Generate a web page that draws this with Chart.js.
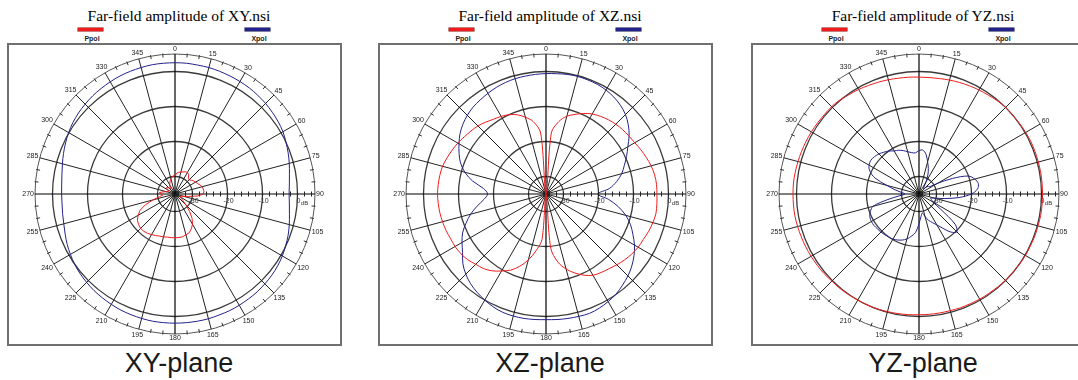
<!DOCTYPE html>
<html><head><meta charset="utf-8">
<script src="https://cdn.jsdelivr.net/npm/chart.js@4.4.1/dist/chart.umd.min.js"></script>
<style>
html,body{margin:0;padding:0;background:#fff;}
body{width:1078px;height:380px;overflow:hidden;position:relative;}
.panel{position:absolute;top:0;width:335px;height:380px;}
.title{position:absolute;left:-3px;width:350px;top:7px;line-height:17px;text-align:center;font-family:"Liberation Serif",serif;font-size:15.5px;color:#000;white-space:nowrap;}
.frame{position:absolute;left:0;top:43px;width:335px;height:303px;border:2px solid #707070;box-sizing:border-box;}
canvas{position:absolute;left:0;top:43px;}
.lg-bar{position:absolute;top:28px;width:25px;height:3px;}
.lg-text{position:absolute;top:35px;width:40px;line-height:8px;text-align:center;font-family:"Liberation Sans",sans-serif;font-size:7px;font-weight:bold;color:#222;}
.caption{position:absolute;left:-3px;width:350px;top:348px;line-height:31px;text-align:center;font-family:"Liberation Sans",sans-serif;font-size:27px;color:#1a1a1a;white-space:nowrap;}
</style></head>
<body>
<script>
// ---------- data ----------
const ANGLES = [0,5,10,15,20,25,30,35,40,45,50,55,60,65,70,75,80,85,90,95,100,105,110,115,120,125,130,135,140,145,150,155,160,165,170,175,
180,185,190,195,200,205,210,215,220,225,230,235,240,245,250,255,260,265,270,275,280,285,290,295,300,305,310,315,320,325,330,335,340,345,350,355];

const SERIES_NAMES = ['Ppol', 'Xpol'];
const PANEL_TITLES = ['Far-field amplitude of XY.nsi', 'Far-field amplitude of XZ.nsi', 'Far-field amplitude of YZ.nsi'];
const PANEL_CAPTIONS = ['XY-plane', 'XZ-plane', 'YZ-plane'];

const XY_PPOL = [-29.8,-29.0,-28.7,-28.5,-28.3,-28.0,-27.9,-28.2,-29.0,-29.3,-28.9,-28.5,-28.2,-27.9,-27.4,-27.0,-26.8,-26.7,
-26.9,-28.5,-31.0,-32.5,-33.0,-33.5,-33.2,-32.8,-32.0,-30.5,-28.5,-26.5,-25.0,-24.0,-23.2,-22.9,-22.6,-22.5,
-22.5,-22.5,-22.5,-22.3,-22.2,-21.9,-21.6,-21.3,-21.1,-21.1,-21.4,-21.9,-22.8,-24.0,-26.0,-28.5,-30.5,-31.5,
-31.0,-30.5,-31.5,-32.5,-33.0,-33.0,-32.5,-32.0,-32.0,-32.5,-33.0,-32.5,-32.0,-31.5,-31.0,-30.5,-30.0,-29.8];
const XY_XPOL = [2.5,2.5,2.4,2.4,2.3,2.2,2.1,2.0,1.8,1.6,1.3,1.0,0.6,0.0,-0.6,-1.2,-1.8,-2.2,
-2.4,-2.2,-1.8,-1.2,-0.6,-0.1,0.4,0.8,1.1,1.3,1.5,1.6,1.7,1.8,1.8,1.9,1.9,1.9,
1.9,1.9,1.9,1.8,1.7,1.6,1.4,1.2,1.0,0.7,0.4,0.0,-0.5,-1.0,-1.6,-2.1,-2.4,-2.6,
-2.6,-2.5,-2.2,-1.7,-1.1,-0.5,0.1,0.6,1.0,1.3,1.6,1.8,2.0,2.2,2.3,2.4,2.5,2.5];

const XZ_PPOL = [-35,-17.5,-14.0,-12.0,-10.8,-9.6,-8.6,-7.9,-7.3,-6.8,-6.4,-6.1,-5.7,-5.1,-4.5,-3.9,-3.5,-3.3,
-3.3,-3.2,-3.1,-3.4,-3.8,-4.3,-4.6,-5.1,-5.7,-6.4,-7.1,-7.6,-8.2,-9.4,-11.0,-12.8,-15.2,-19.5,
-35,-22.0,-18.5,-15.5,-13.0,-11.0,-9.6,-8.2,-7.2,-6.6,-5.8,-5.3,-5.0,-4.9,-4.6,-4.4,-4.2,-4.1,
-4.0,-4.1,-4.2,-4.4,-4.9,-5.4,-5.9,-6.5,-7.0,-7.5,-8.2,-8.9,-9.4,-10.0,-10.9,-12.3,-14.0,-17.5];
const XZ_XPOL = [-0.6,-0.5,-0.3,-0.2,-0.3,-0.4,-0.7,-1.2,-1.9,-2.9,-4.3,-6.0,-8.0,-9.6,-11.2,-12.6,-14.5,-16.8,
-20.2,-17.0,-14.0,-11.4,-9.3,-7.6,-5.8,-4.3,-3.0,-1.9,-1.0,-0.1,0.5,1.0,1.3,1.2,1.1,1.0,
0.9,1.0,1.1,1.1,1.0,0.6,0.0,-0.7,-1.5,-2.6,-4.0,-5.9,-7.3,-8.7,-10.7,-12.7,-15.0,-17.2,
-18.3,-17.1,-13.7,-11.0,-9.0,-7.6,-6.3,-5.0,-4.0,-3.2,-2.6,-2.2,-1.8,-1.4,-1.1,-0.9,-0.8,-0.7];

const YZ_PPOL = [-1.6,-1.6,-1.5,-1.3,-1.1,-0.9,-0.7,-0.5,-0.2,0.0,0.0,0.1,0.2,0.3,0.3,0.3,0.3,0.3,
0.3,0.3,0.3,0.2,0.2,0.1,0.1,0.0,-0.1,-0.1,-0.2,-0.3,-0.3,-0.4,-0.4,-0.5,-0.5,-0.5,
-0.5,-0.4,-0.3,-0.2,-0.1,0.0,0.0,0.1,0.2,0.2,0.4,0.5,0.6,0.7,0.8,0.9,1.0,1.0,
1.0,1.0,0.9,0.8,0.7,0.6,0.5,0.4,0.3,0.3,0.1,-0.3,-0.5,-0.8,-1.0,-1.2,-1.4,-1.5];
const YZ_XPOL = [-22.6,-22.4,-23.5,-25.5,-27.2,-29.0,-31.0,-32.5,-33.0,-32.5,-31.5,-31.5,-29.0,-24.5,-20.0,-18.5,-17.8,-18.2,
-20.0,-23.5,-27.5,-30.5,-31.5,-31.0,-30.5,-27.5,-21.5,-19.7,-20.8,-23.0,-24.8,-26.0,-27.0,-28.3,-29.5,-28.5,
-26.5,-24.0,-22.8,-21.7,-21.0,-20.5,-20.1,-20.0,-19.8,-19.6,-19.5,-19.3,-19.3,-19.5,-20.2,-21.4,-26.0,-29.5,
-31.0,-30.0,-28.0,-25.5,-21.6,-19.5,-18.5,-18.2,-18.4,-18.8,-19.4,-20.0,-20.8,-21.2,-21.8,-22.5,-23.0,-23.2];

const RING_TICKS = [-35, -30, -20, -10, 0, 5];
const DB_LABELS = [-30, -20, -10, 0];
const AXIS_MINOR_TICKS = [-34,-32,-30,-28,-26,-24,-22,-20,-18,-16,-14,-12,-10,-8,-6,-4,-2,0,2,4];

// ---------- drawing ----------
const PANEL_LEFT = [7, 378, 751];
const COLORS = ['#f01c1c', '#22228a'];
const LEGEND_BAR_X = [71, 238];

const polarDecor = {
  id: 'polarDecor',
  afterDraw(chart) {
    const s = chart.scales.r, ctx = chart.ctx;
    const R = s.drawingArea, cx = s.xCenter, cy = s.yCenter;
    const labels = s.getLabels();
    ctx.save();
    // minor ticks on outer circle every 5 degrees
    ctx.strokeStyle = '#333'; ctx.lineWidth = 1;
    labels.forEach((lab, i) => {
      if (lab % 15 === 0) return;
      const a = s.getPointPosition(i, R - 3), b = s.getPointPosition(i, R + 1);
      ctx.beginPath(); ctx.moveTo(a.x, a.y); ctx.lineTo(b.x, b.y); ctx.stroke();
    });
    // angle labels
    ctx.font = '7px "Liberation Sans", sans-serif';
    ctx.fillStyle = '#222'; ctx.textAlign = 'center'; ctx.textBaseline = 'middle';
    labels.forEach((lab, i) => {
      if (lab % 15 !== 0) return;
      const t = String(lab), w = ctx.measureText(t).width, h = 7;
      const u = s.getPointPosition(i, 1);
      const ux = u.x - cx, uy = u.y - cy;
      const half = Math.abs(ux) * w / 2 + Math.abs(uy) * h / 2;
      const q = s.getPointPosition(i, R + 1 + half);
      ctx.fillText(t, q.x, q.y);
    });
    // minor ticks along the 90 degree axis
    const i90 = labels.indexOf(90);
    ctx.strokeStyle = '#222'; ctx.lineWidth = 1;
    AXIS_MINOR_TICKS.forEach(v => {
      const p = s.getPointPosition(i90, s.getDistanceFromCenterForValue(v));
      ctx.beginPath(); ctx.moveTo(p.x, p.y - 2.5); ctx.lineTo(p.x, p.y + 2.5); ctx.stroke();
    });
    // dB labels
    ctx.fillStyle = '#333';
    DB_LABELS.forEach(v => {
      const p = s.getPointPosition(i90, s.getDistanceFromCenterForValue(v));
      ctx.font = '7px "Liberation Sans", sans-serif';
      ctx.fillText(String(v), p.x + 1, p.y + 7);
      if (v === 0) {
        ctx.font = '6px "Liberation Sans", sans-serif';
        ctx.fillText('dB', p.x + 7, p.y + 9);
      }
    });
    ctx.restore();
  }
};

function makePanel(k, ppol, xpol, tensions) {
  const panel = document.createElement('div');
  panel.className = 'panel';
  panel.style.left = PANEL_LEFT[k] + 'px';
  document.body.appendChild(panel);

  const title = document.createElement('div');
  title.className = 'title'; title.textContent = PANEL_TITLES[k];
  panel.appendChild(title);

  const frame = document.createElement('div');
  frame.className = 'frame';
  panel.appendChild(frame);

  const canvas = document.createElement('canvas');
  canvas.width = 335; canvas.height = 303;
  canvas.style.width = '335px'; canvas.style.height = '303px';
  panel.appendChild(canvas);

  const cap = document.createElement('div');
  cap.className = 'caption'; cap.textContent = PANEL_CAPTIONS[k];
  panel.appendChild(cap);

  const datasets = [ppol, xpol].map((d, j) => ({
    label: SERIES_NAMES[j],
    data: d,
    borderColor: COLORS[j],
    backgroundColor: COLORS[j],
    borderWidth: 1,
    pointRadius: 0,
    fill: false,
    tension: tensions[j]
  }));

  // legend
  datasets.forEach((ds, j) => {
    const bar = document.createElement('div');
    bar.className = 'lg-bar';
    bar.style.left = LEGEND_BAR_X[j] + 'px';
    bar.style.background = ds.borderColor;
    bar.style.boxShadow = '0 0 0 0.5px ' + (j === 0 ? '#8a0000' : '#000040');
    panel.appendChild(bar);
    const t = document.createElement('div');
    t.className = 'lg-text';
    t.style.left = (LEGEND_BAR_X[j] + 13 - 20 + 1) + 'px';
    t.textContent = ds.label;
    panel.appendChild(t);
  });

  new Chart(canvas, {
    type: 'radar',
    data: { labels: ANGLES, datasets },
    options: {
      responsive: false,
      animation: false,
      devicePixelRatio: 1,
      layout: { padding: { left: 28, right: 27, top: 11, bottom: 12 } },
      plugins: { legend: { display: false }, tooltip: { enabled: false } },
      scales: {
        r: {
          min: -35, max: 5,
          startAngle: 0,
          afterBuildTicks: sc => { sc.ticks = RING_TICKS.map(v => ({ value: v })); },
          ticks: { display: false },
          grid: {
            circular: true,
            color: c => (c.tick && c.tick.value === 5) ? '#555' : '#3a3a3a',
            lineWidth: c => (c.tick && c.tick.value === 5) ? 1 : 1.3
          },
          angleLines: {
            color: c => (ANGLES[c.index] % 90 === 0) ? '#000' : '#222',
            lineWidth: c => (ANGLES[c.index] % 90 === 0) ? 1.2 : (ANGLES[c.index] % 15 === 0 ? 1 : 0)
          },
          pointLabels: { display: false }
        }
      }
    },
    plugins: [polarDecor]
  });
}

makePanel(0, XY_PPOL, XY_XPOL, [0, 0.33]);
makePanel(1, XZ_PPOL, XZ_XPOL, [0.33, 0.33]);
makePanel(2, YZ_PPOL, YZ_XPOL, [0.33, 0.33]);
</script>
</body></html>
